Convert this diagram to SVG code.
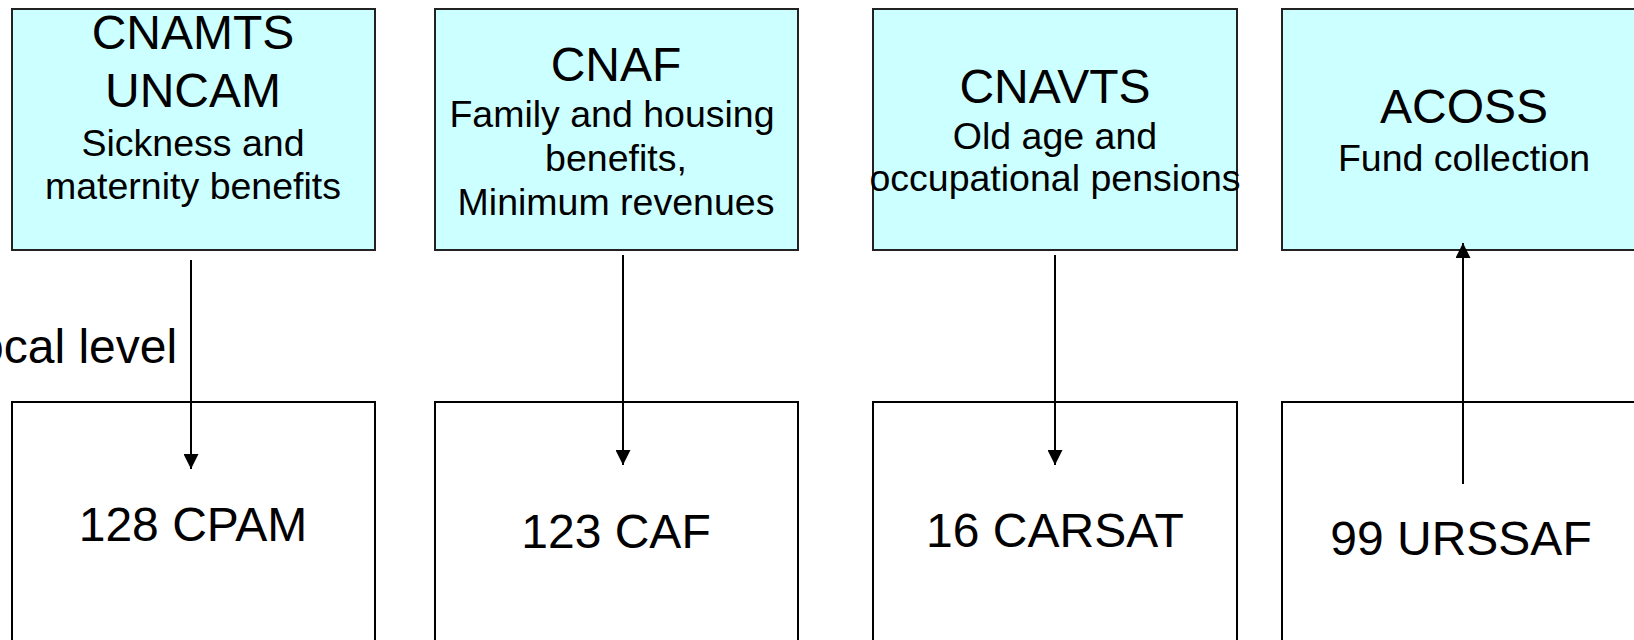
<svg xmlns="http://www.w3.org/2000/svg" width="1634" height="640" viewBox="0 0 1634 640">
<style>
.top{fill:#CCFFFF;stroke:#222;stroke-width:2}
.bot{fill:#FFFFFF;stroke:#000;stroke-width:2}
text{font-family:"Liberation Sans",Arial,sans-serif;fill:#000;text-anchor:middle}
.t{font-size:48px}
.s{font-size:37.5px}
.conn line{stroke:#000;stroke-width:2}
</style>
<defs>
<marker id="ah" markerWidth="15" markerHeight="15" refX="15" refY="7.5" orient="auto" markerUnits="userSpaceOnUse">
<path d="M0,0 L15,7.5 L0,15 Z" fill="#000"/>
</marker>
</defs>
<rect width="1634" height="640" fill="#FFFFFF"/>
<text class="t" x="-23" y="363" style="text-anchor:start">ocal level</text>
<g id="cnamts">
<rect class="top" x="12" y="9" width="363" height="241"/>
<text class="t" x="193" y="49">CNAMTS</text>
<text class="t" x="193" y="107">UNCAM</text>
<text class="s" x="193" y="156">Sickness and</text>
<text class="s" x="193" y="199">maternity benefits</text>
</g>
<g id="cnaf">
<rect class="top" x="435" y="9" width="363" height="241"/>
<text class="t" x="616" y="81">CNAF</text>
<text class="s" x="612" y="127">Family and housing</text>
<text class="s" x="616" y="171">benefits,</text>
<text class="s" x="616" y="215">Minimum revenues</text>
</g>
<g id="cnavts">
<rect class="top" x="873" y="9" width="364" height="241"/>
<text class="t" x="1055" y="103">CNAVTS</text>
<text class="s" x="1055" y="149">Old age and</text>
<text class="s" x="1055" y="191">occupational pensions</text>
</g>
<g id="acoss">
<rect class="top" x="1282" y="9" width="364" height="241"/>
<text class="t" x="1464" y="123">ACOSS</text>
<text class="s" x="1464" y="171">Fund collection</text>
</g>
<g id="cpam">
<rect class="bot" x="12" y="402" width="363" height="260"/>
<text class="t" x="193" y="541">128 CPAM</text>
</g>
<g id="caf">
<rect class="bot" x="435" y="402" width="363" height="260"/>
<text class="t" x="616" y="548">123 CAF</text>
</g>
<g id="carsat">
<rect class="bot" x="873" y="402" width="364" height="260"/>
<text class="t" x="1055" y="547">16 CARSAT</text>
</g>
<g id="urssaf">
<rect class="bot" x="1282" y="402" width="364" height="260"/>
<text class="t" x="1461" y="555">99 URSSAF</text>
</g>
<g id="connectors" class="conn">
<line x1="191" y1="260" x2="191" y2="469" marker-end="url(#ah)"/>
<line x1="623" y1="255" x2="623" y2="465" marker-end="url(#ah)"/>
<line x1="1055" y1="255" x2="1055" y2="465" marker-end="url(#ah)"/>
<line x1="1463" y1="484" x2="1463" y2="243" marker-end="url(#ah)"/>
</g>
</svg>
